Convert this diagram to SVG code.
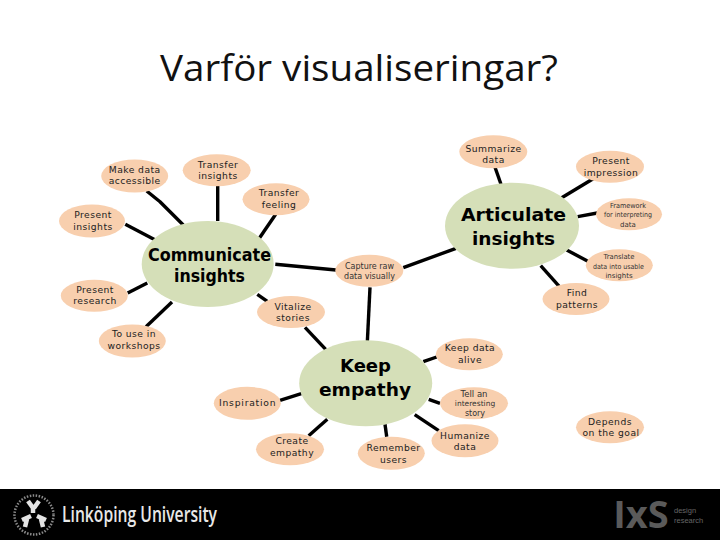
<svg xmlns="http://www.w3.org/2000/svg" width="720" height="540" viewBox="0 0 720 540">
<style>
.n{fill:#F8CFAE}
.h{fill:#D5DFB8}
.c{fill:none;stroke:#000;stroke-width:3.4;stroke-linecap:butt;stroke-linejoin:round}
text{text-anchor:middle}
.t{font-family:"DejaVu Sans",Verdana,sans-serif;font-size:9.2px;fill:#222;letter-spacing:.45px}
.s{font-family:"DejaVu Sans",Verdana,sans-serif;font-size:7px;fill:#333}
.b{font-family:"DejaVu Sans",Verdana,sans-serif;font-size:17px;font-weight:bold;fill:#000}
.l{font-size:18px}
</style>
<rect width="720" height="540" fill="#fff"/>
<text id="title" x="359" y="81" font-family="'Open Sans','Noto Sans',sans-serif" font-size="36" fill="#111" textLength="398" lengthAdjust="spacingAndGlyphs">Varför visualiseringar?</text>
<g id="connectors">
<path class="c" d="M146.700 191L160 201.700L183.300 225"/>
<path class="c" d="M217.700 186V221"/>
<path class="c" d="M275.700 214.300L259.300 238.300"/>
<path class="c" d="M125.300 224.300L155.300 240"/>
<path class="c" d="M127.700 293L147.300 283"/>
<path class="c" d="M146 326.700L172 302"/>
<path class="c" d="M275.300 264.300L336 270"/>
<path class="c" d="M257.300 294.300L267.300 301.300"/>
<path class="c" d="M305 327.300L325.700 349.300"/>
<path class="c" d="M403.300 267.700L456 248.300"/>
<path class="c" d="M495 167.300L501 184.300"/>
<path class="c" d="M561.700 197.700L594 178.300"/>
<path class="c" d="M577.700 216.700L597.300 213"/>
<path class="c" d="M566.700 250L590.700 262.700"/>
<path class="c" d="M540.700 265.700L561 288.300"/>
<path class="c" d="M370 287.300L367.300 342.700"/>
<path class="c" d="M423.300 361.700L436.700 357"/>
<path class="c" d="M428.700 399.300L440 403.300"/>
<path class="c" d="M414.700 414.700L438.700 430.700"/>
<path class="c" d="M385 424.300L386.700 436.700"/>
<path class="c" d="M327.300 419.300L308.700 435.700"/>
<path class="c" d="M301.300 393.700L280 400.300"/>
</g>
<g id="hub-communicate"><ellipse class="h" cx="207.700" cy="264" rx="66" ry="43"/><text class="b" x="209.500" y="261" textLength="123" lengthAdjust="spacingAndGlyphs">Communicate</text><text class="b" x="209.500" y="282" textLength="71" lengthAdjust="spacingAndGlyphs">insights</text></g>
<g id="hub-articulate"><ellipse class="h" cx="512" cy="225.700" rx="67" ry="43"/><text class="b l" x="513.500" y="221" textLength="105" lengthAdjust="spacingAndGlyphs">Articulate</text><text class="b l" x="513.500" y="245" textLength="83" lengthAdjust="spacingAndGlyphs">insights</text></g>
<g id="hub-empathy"><ellipse class="h" cx="365.700" cy="383.300" rx="66.500" ry="43"/><text class="b l" x="365.500" y="372" textLength="51" lengthAdjust="spacingAndGlyphs">Keep</text><text class="b l" x="365" y="396" textLength="92" lengthAdjust="spacingAndGlyphs">empathy</text></g>
<g id="n1"><ellipse class="n" cx="134.700" cy="176" rx="33.500" ry="16.500"/><text class="t" x="134.700" y="173">Make data</text><text class="t" x="134.700" y="184">accessible</text></g>
<g id="n2"><ellipse class="n" cx="216.700" cy="170.300" rx="34" ry="16"/><text class="t" x="218" y="168">Transfer</text><text class="t" x="218" y="179">insights</text></g>
<g id="n3"><ellipse class="n" cx="276" cy="199.300" rx="33.500" ry="16"/><text class="t" x="279" y="196">Transfer</text><text class="t" x="279" y="208">feeling</text></g>
<g id="n4"><ellipse class="n" cx="92" cy="221" rx="33" ry="16.500"/><text class="t" x="93" y="218">Present</text><text class="t" x="93" y="230">insights</text></g>
<g id="n5"><ellipse class="n" cx="94.300" cy="295.700" rx="33.500" ry="16"/><text class="t" x="95" y="293">Present</text><text class="t" x="95" y="304">research</text></g>
<g id="n6"><ellipse class="n" cx="132.300" cy="341" rx="33.500" ry="16.500"/><text class="t" x="134" y="337">To use in</text><text class="t" x="134" y="349">workshops</text></g>
<g id="n7"><ellipse class="n" cx="291" cy="312" rx="34" ry="16"/><text class="t" x="293" y="310">Vitalize</text><text class="t" x="293" y="321">stories</text></g>
<g id="n8"><ellipse class="n" cx="369.300" cy="270.700" rx="34" ry="16"/><text class="s" x="369.500" y="269" style="font-size:8px">Capture raw</text><text class="s" x="369.500" y="279" style="font-size:8px">data visually</text></g>
<g id="n9"><ellipse class="n" cx="493.300" cy="151.700" rx="34" ry="16.500"/><text class="t" x="493.500" y="152">Summarize</text><text class="t" x="493.500" y="163">data</text></g>
<g id="n10"><ellipse class="n" cx="610" cy="166.700" rx="34" ry="16"/><text class="t" x="611" y="164">Present</text><text class="t" x="611" y="176">impression</text></g>
<g id="n11"><ellipse class="n" cx="629" cy="214.300" rx="33" ry="16"/><text class="s" x="628" y="208" textLength="36" lengthAdjust="spacingAndGlyphs">Framework</text><text class="s" x="628" y="217" textLength="48" lengthAdjust="spacingAndGlyphs">for interpreting</text><text class="s" x="628" y="227">data</text></g>
<g id="n12"><ellipse class="n" cx="619.300" cy="265.300" rx="33.500" ry="16"/><text class="s" x="619" y="259" textLength="31" lengthAdjust="spacingAndGlyphs">Translate</text><text class="s" x="618.500" y="268.500" textLength="51" lengthAdjust="spacingAndGlyphs">data into usable</text><text class="s" x="619" y="278">insights</text></g>
<g id="n13"><ellipse class="n" cx="576" cy="299" rx="33.500" ry="16"/><text class="t" x="577" y="296">Find</text><text class="t" x="577" y="308">patterns</text></g>
<g id="n14"><ellipse class="n" cx="469.300" cy="354.300" rx="33.500" ry="16"/><text class="t" x="470" y="351">Keep data</text><text class="t" x="470" y="363">alive</text></g>
<g id="n15"><ellipse class="n" cx="474" cy="403.300" rx="34" ry="16"/><text class="s" x="474" y="397" style="font-size:8.500px">Tell an</text><text class="s" x="475" y="406" style="font-size:7.500px">interesting</text><text class="s" x="475" y="416" style="font-size:8px">story</text></g>
<g id="n16"><ellipse class="n" cx="465" cy="440.700" rx="33.500" ry="16.500"/><text class="t" x="465" y="439">Humanize</text><text class="t" x="465" y="450">data</text></g>
<g id="n17"><ellipse class="n" cx="391.300" cy="453.300" rx="33.500" ry="16.500"/><text class="t" x="393.500" y="451">Remember</text><text class="t" x="393.500" y="463">users</text></g>
<g id="n18"><ellipse class="n" cx="290" cy="449.300" rx="34" ry="16"/><text class="t" x="292" y="444">Create</text><text class="t" x="292" y="456">empathy</text></g>
<g id="n19"><ellipse class="n" cx="247.300" cy="403.300" rx="33.500" ry="16.500"/><text class="t" x="247.500" y="406" textLength="57">Inspiration</text></g>
<g id="n20"><ellipse class="n" cx="610" cy="427.300" rx="34" ry="16"/><text class="t" x="610" y="425">Depends</text><text class="t" x="611" y="436">on the goal</text></g>
<g id="footer">
<rect y="489" width="720" height="51" fill="#000"/>
<circle cx="34" cy="515" r="19.500" fill="none" stroke="#8a8a8a" stroke-width="2.500" stroke-dasharray="1.500 1.500"/>
<g fill="none" stroke="#e4e4e4" stroke-width="4.500" stroke-linecap="butt" stroke-linejoin="miter">
<path d="M28 501L33 508V513M39 501L34 508"/>
<path d="M31 516L22 520M27 519L25 527"/>
<path d="M37 516L46 520M41 519L43 527"/>
</g>
<text x="139.500" y="522" font-family="'Open Sans','Noto Sans',sans-serif" font-size="21" font-weight="600" fill="#e8e8e8" textLength="155" lengthAdjust="spacingAndGlyphs">Linköping University</text>
<text x="641" y="528" font-family="'Open Sans','Noto Sans',sans-serif" font-size="38" font-weight="700" fill="#5a5a5a">IxS</text>
<text x="674" y="513" font-family="'Liberation Sans',sans-serif" font-size="7.500" fill="#666" style="text-anchor:start">design</text>
<text x="674" y="523" font-family="'Liberation Sans',sans-serif" font-size="7.500" fill="#666" style="text-anchor:start">research</text>
</g>
</svg>
